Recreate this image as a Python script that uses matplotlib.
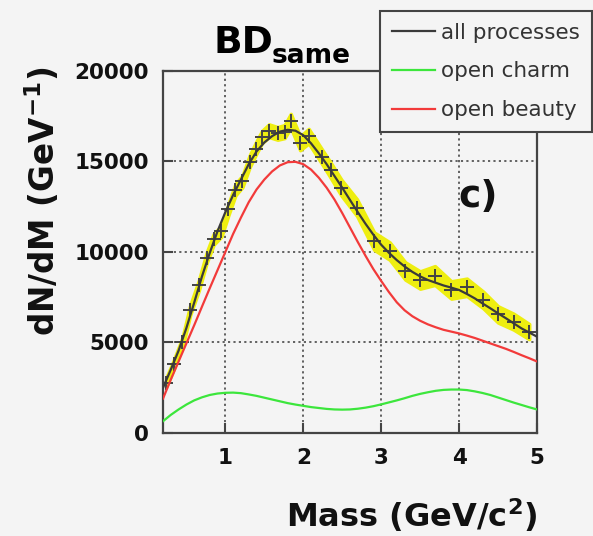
import matplotlib
matplotlib.use("Agg")
import matplotlib.pyplot as plt
from matplotlib.lines import Line2D

# ---------------- data ----------------
# measured points (crosses) with yellow error band
pt_mass = [0.24, 0.34, 0.45, 0.55, 0.66, 0.76, 0.85, 0.95, 1.04, 1.13,
           1.22, 1.31, 1.39, 1.47, 1.56, 1.67, 1.76, 1.84, 1.96, 2.07,
           2.24, 2.35, 2.49, 2.69, 2.91, 3.11, 3.31, 3.50, 3.69, 3.90,
           4.10, 4.31, 4.50, 4.70, 4.90]
pt_dndm = [2780, 3800, 5020, 6800, 8150, 9680, 10700, 11150, 12350, 13450,
           13900, 14990, 15700, 16350, 16700, 16550, 16650, 17250, 16000, 16400,
           15270, 14530, 13550, 12450, 10600, 10050, 8950, 8450, 8700, 7900,
           8050, 7350, 6550, 6150, 5600]
pt_err = [250, 250, 260, 270, 280, 290, 300, 300, 310, 320,
          320, 330, 340, 340, 350, 350, 360, 380, 380, 400,
          400, 420, 440, 460, 480, 480, 480, 480, 520, 480,
          480, 460, 450, 440, 420]

# model curves
curve_mass = [0.2, 0.3, 0.4, 0.5, 0.6, 0.7, 0.8, 0.9, 1.0, 1.1, 1.2, 1.3, 1.4, 1.5,
              1.6, 1.7, 1.8, 1.9, 2.0, 2.1, 2.2, 2.3, 2.4, 2.5, 2.6, 2.7, 2.8, 2.9,
              3.0, 3.1, 3.2, 3.3, 3.4, 3.5, 3.6, 3.7, 3.8, 3.9, 4.0, 4.1, 4.2, 4.3,
              4.4, 4.5, 4.6, 4.7, 4.8, 4.9, 5.0]
all_proc = [2500, 3500, 4550, 5800, 7200, 8650, 9950, 11150, 12200, 13150, 14000,
            14850, 15550, 16050, 16400, 16650, 16750, 16700, 16450, 16000, 15450,
            14850, 14200, 13550, 12870, 12200, 11550, 10950, 10400, 9950, 9550,
            9200, 8900, 8650, 8450, 8300, 8150, 8030, 7900, 7680, 7440, 7160,
            6890, 6610, 6340, 6060, 5780, 5550, 5320]
open_charm = [650, 1000, 1300, 1570, 1800, 1970, 2100, 2180, 2220, 2230, 2200,
              2130, 2050, 1950, 1850, 1750, 1650, 1570, 1500, 1430, 1380, 1330,
              1300, 1290, 1300, 1340, 1400, 1480, 1580, 1690, 1800, 1920, 2050,
              2160, 2250, 2330, 2380, 2400, 2400, 2370, 2300, 2210, 2100, 1960,
              1820, 1680, 1550, 1420, 1300]
open_beauty = [1900, 2950, 3950, 4950, 5950, 6980, 8000, 9000, 10000, 11000, 11900,
               12750, 13450, 14000, 14450, 14780, 14960, 14980, 14850, 14550, 14100,
               13550, 12900, 12150, 11350, 10550, 9780, 9050, 8400, 7780, 7220,
               6780, 6450, 6200, 6000, 5840, 5700, 5600, 5500, 5380, 5250, 5100,
               4950, 4800, 4650, 4480, 4300, 4130, 3950]

legend_labels = ["all processes", "open charm", "open beauty"]
x_ticks = [1, 2, 3, 4, 5]
y_ticks = [0, 5000, 10000, 15000, 20000]

# ---------------- style ----------------
BG = "#f4f4f4"
DARK = "#3a3a3a"
GREEN = "#3ce63c"
RED = "#f23a3a"
YELLOW = "#eeee10"

plt.rcParams["font.family"] = ["DejaVu Sans"]

fig = plt.figure(figsize=(5.93, 5.36), dpi=100, facecolor=BG)
ax = fig.add_axes([0.2749, 0.1922, 0.6307, 0.6754], facecolor=BG)

# yellow error band
ax.fill_between(pt_mass,
                [y - e for y, e in zip(pt_dndm, pt_err)],
                [y + e for y, e in zip(pt_dndm, pt_err)],
                color=YELLOW, linewidth=2.5, edgecolor=YELLOW, zorder=2)
# crosses
ax.plot(pt_mass, pt_dndm, linestyle="none", marker="+", markersize=10,
        markeredgewidth=1.4, color="#444444", zorder=3)
# curves
ax.plot(curve_mass, open_charm, color=GREEN, lw=1.6, zorder=3)
ax.plot(curve_mass, open_beauty, color=RED, lw=1.6, zorder=3)
ax.plot(curve_mass, all_proc, color=DARK, lw=1.6, zorder=4)

ax.set_xlim(0.2, 5.0)
ax.set_ylim(0, 20000)
ax.set_xticks(x_ticks)
ax.set_yticks(y_ticks)
ax.set_xticklabels([str(t) for t in x_ticks])
ax.set_yticklabels([str(t) for t in y_ticks])
ax.tick_params(direction="in", length=7, width=1.5, color="#444444",
               labelsize=15.5, labelcolor="#111111")
ax.tick_params(axis="x", pad=11)
ax.tick_params(axis="y", pad=10)
for lab in ax.get_xticklabels() + ax.get_yticklabels():
    lab.set_fontweight("bold")

ax.grid(True, linestyle=(0, (1.2, 1.8)), color="#555555", lw=1.3, zorder=1)
ax.set_axisbelow(True)
for sp in ax.spines.values():
    sp.set_color("#444444")
    sp.set_linewidth(1.6)

# axis titles (ROOT style: right/top aligned)
fig.text(0.9056, 0.017, r"Mass (GeV/c$^{\mathbf{2}}$)", ha="right", va="baseline",
         fontsize=23, fontweight="bold", color="#111111")
fig.text(0.0725, 0.875, r"dN/dM (GeV$^{\mathbf{-1}}$)", rotation=90, ha="center", va="top",
         fontsize=23.5, fontweight="bold", color="#111111")

# title
fig.text(213 / 593, 1 - 53 / 536, "BD", ha="left", va="baseline",
         fontsize=27, fontweight="bold", color="black")
fig.text(272 / 593, 1 - 63 / 536, "same", ha="left", va="baseline",
         fontsize=19, fontweight="bold", color="black")

# panel label
ax.text(3.99, 12500, "c)", ha="left", va="baseline", fontsize=27,
        fontweight="bold", color="#111111", zorder=5)

# legend
handles = [Line2D([], [], color=DARK, lw=1.6),
           Line2D([], [], color=GREEN, lw=1.6),
           Line2D([], [], color=RED, lw=1.6)]
leg = fig.legend(handles, legend_labels, loc="upper left",
                 bbox_to_anchor=(380 / 593, 0.5, (592 - 380) / 593, 1 - 10.7 / 536 - 0.5),
                 mode="expand", borderaxespad=0, fancybox=False, framealpha=1,
                 fontsize=15.5, labelspacing=0.88, borderpad=0.55,
                 handlelength=2.0, handletextpad=0.3, labelcolor="#333333")
fr = leg.get_frame()
fr.set_facecolor(BG)
fr.set_edgecolor("#444444")
fr.set_linewidth(1.5)

fig.savefig("out.png", dpi=100, facecolor=BG)
